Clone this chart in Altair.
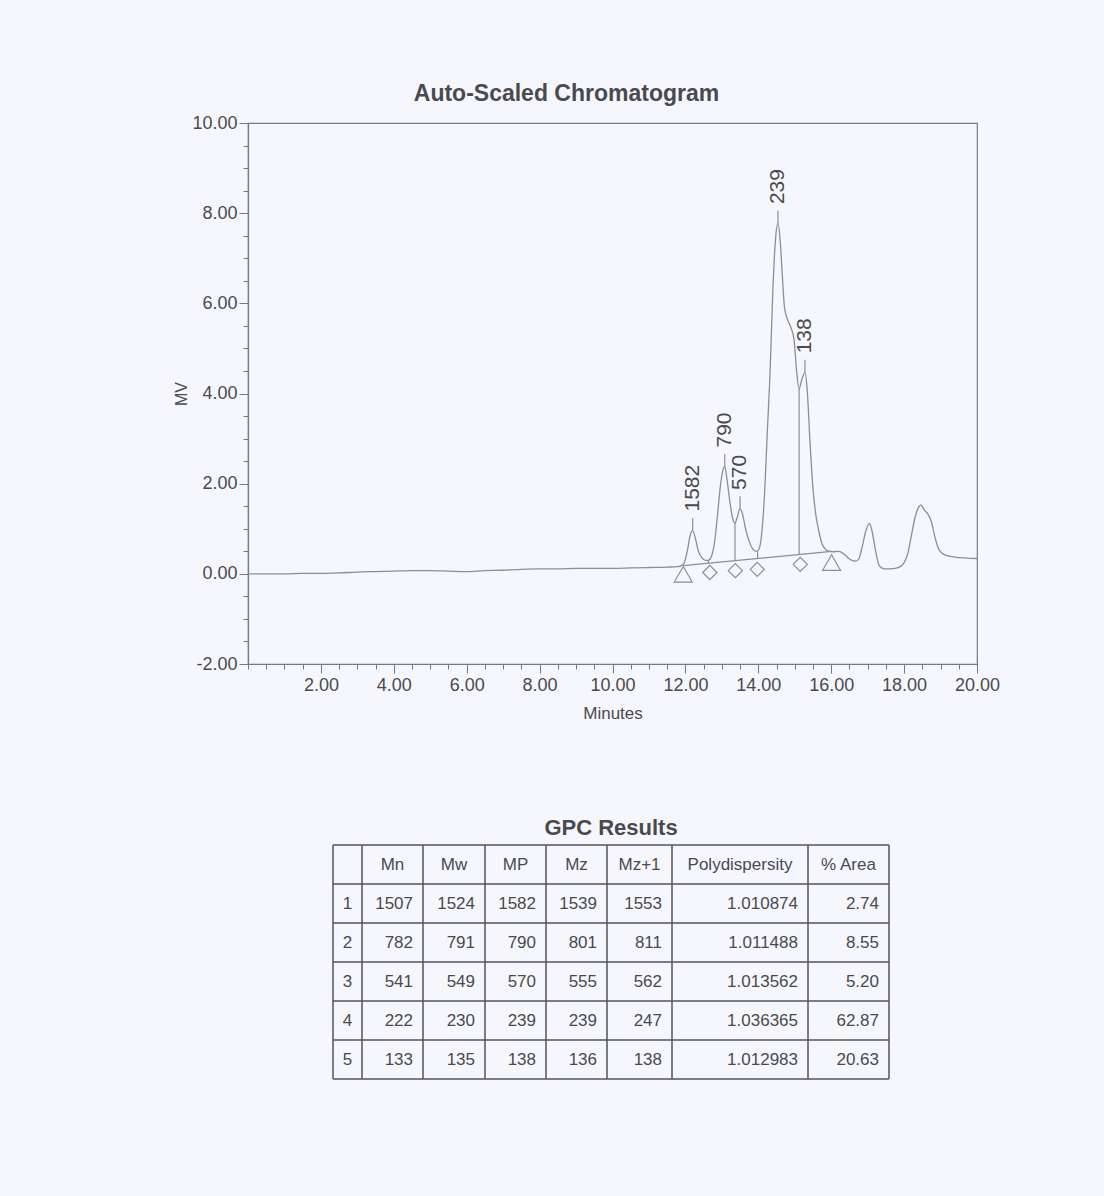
import altair as alt
import pandas as pd

# ---------------- chromatogram data ----------------
trace_time = [0.00, 0.50, 1.00, 1.50, 2.00, 2.50, 3.00, 3.50, 4.00, 4.50, 5.00, 5.50,
              6.00, 6.50, 7.00, 7.50, 8.00, 8.50, 9.00, 9.50, 10.00, 10.50, 11.00,
              11.50, 11.80, 11.95, 12.05, 12.13, 12.20, 12.27, 12.35, 12.45, 12.55,
              12.63, 12.72, 12.80, 12.88, 12.96, 13.03, 13.08, 13.14, 13.22, 13.30,
              13.36, 13.42, 13.50, 13.57, 13.65, 13.75, 13.85, 13.95, 14.02, 14.10,
              14.18, 14.25, 14.32, 14.40, 14.47, 14.54, 14.60, 14.66, 14.72, 14.80,
              14.90, 14.98, 15.05, 15.12, 15.19, 15.28, 15.34, 15.42, 15.50, 15.58,
              15.66, 15.75, 15.85, 15.95, 16.05, 16.20, 16.35, 16.50, 16.65, 16.75,
              16.85, 16.95, 17.05, 17.12, 17.22, 17.32, 17.45, 17.60, 17.75, 17.90,
              18.00, 18.10, 18.20, 18.30, 18.40, 18.46, 18.55, 18.65, 18.75, 18.85,
              18.95, 19.05, 19.20, 19.40, 19.70, 20.00]
trace_mv = [0.00, 0.00, 0.00, 0.01, 0.01, 0.02, 0.04, 0.05, 0.06, 0.07, 0.07, 0.06,
            0.05, 0.07, 0.08, 0.10, 0.11, 0.11, 0.12, 0.12, 0.12, 0.13, 0.14,
            0.15, 0.16, 0.22, 0.50, 0.85, 0.96, 0.80, 0.52, 0.36, 0.30,
            0.30, 0.40, 0.70, 1.30, 1.95, 2.30, 2.38, 2.10, 1.60, 1.22,
            1.12, 1.25, 1.44, 1.32, 1.00, 0.72, 0.55, 0.50, 0.55, 0.95,
            1.90, 3.20, 4.40, 6.30, 7.40, 7.78, 7.40, 6.60, 5.90, 5.65,
            5.45, 5.20, 4.50, 4.10, 4.30, 4.47, 4.10, 2.90, 1.90, 1.30,
            0.95, 0.66, 0.54, 0.50, 0.49, 0.50, 0.44, 0.33, 0.28, 0.32,
            0.60, 0.95, 1.12, 0.95, 0.50, 0.18, 0.11, 0.11, 0.12, 0.16,
            0.25, 0.45, 0.85, 1.25, 1.48, 1.53, 1.42, 1.33, 1.15, 0.80,
            0.55, 0.45, 0.40, 0.37, 0.35, 0.34]

peak_time = [12.20, 13.08, 13.50, 14.54, 15.28]
peak_mv = [0.96, 2.38, 1.44, 7.78, 4.47]

baseline_time = [11.94, 16.01]
baseline_mv = [0.18, 0.50]

drop_time = [12.63, 13.36, 13.98, 15.12]
drop_base_mv = [0.23, 0.29, 0.34, 0.43]
drop_top_mv = [0.30, 1.12, 0.50, 4.10]

marker_time = [11.94, 12.67, 13.37, 13.97, 15.15, 16.01]
marker_mv = [-0.01, 0.03, 0.07, 0.10, 0.21, 0.25]
marker_kind = ["end", "split", "split", "split", "split", "end"]

x_major_ticks = [2.0, 4.0, 6.0, 8.0, 10.0, 12.0, 14.0, 16.0, 18.0, 20.0]
y_major_ticks = [-2.0, 0.0, 2.0, 4.0, 6.0, 8.0, 10.0]
x_minor_ticks = [i * 0.5 for i in range(0, 41)]
y_minor_ticks = [-2.0 + i * 0.5 for i in range(0, 25)]

# ---------------- GPC results table ----------------
col_headers = ["", "Mn", "Mw", "MP", "Mz", "Mz+1", "Polydispersity", "% Area"]
peak_no = [1, 2, 3, 4, 5]
mn = [1507, 782, 541, 222, 133]
mw = [1524, 791, 549, 230, 135]
mp = [1582, 790, 570, 239, 138]
mz = [1539, 801, 555, 239, 136]
mz1 = [1553, 811, 562, 247, 138]
polydispersity = ["1.010874", "1.011488", "1.013562", "1.036365", "1.012983"]
area_pct = ["2.74", "8.55", "5.20", "62.87", "20.63"]

# ---------------- style / layout ----------------
FONT = "Liberation Sans"
BG = "#f6f7fc"
LINE = "#8a8e98"
AXIS = "#777a80"
TEXT = "#4a4a4e"
PLOT_W, PLOT_H = 729, 541
LABEL_EXPR = "datum.value < 0 ? '-' + format(-datum.value, '.2f') : format(datum.value, '.2f')"

xs = alt.Scale(domain=[0, 20], nice=False, zero=False)
ys = alt.Scale(domain=[-2, 10], nice=False, zero=False)

trace_df = pd.DataFrame({"t": trace_time, "mv": trace_mv})
peak_df = pd.DataFrame({"t": peak_time, "mv": peak_mv, "label": [str(v) for v in mp]})
base_df = pd.DataFrame({"t": baseline_time, "mv": baseline_mv})
drop_df = pd.DataFrame({"t": drop_time, "lo": drop_base_mv, "hi": drop_top_mv})
mark_df = pd.DataFrame({"t": marker_time, "mv": marker_mv, "kind": marker_kind})

# trace + minor ticks axes
trace = alt.Chart(trace_df).mark_line(color=LINE, strokeWidth=1.3, interpolate="monotone").encode(
    x=alt.X("t:Q", scale=xs, axis=alt.Axis(values=x_minor_ticks, labels=False, domain=False,
                                           grid=False, tickSize=5, tickColor=AXIS, tickWidth=1,
                                           title=None, orient="bottom")),
    y=alt.Y("mv:Q", scale=ys, axis=alt.Axis(values=y_minor_ticks, labels=False, domain=False,
                                            grid=False, tickSize=5, tickColor=AXIS, tickWidth=1,
                                            title=None, orient="left")),
)

# baseline + major axes
baseline = alt.Chart(base_df).mark_line(color=LINE, strokeWidth=1.2).encode(
    x=alt.X("t:Q", scale=xs, axis=alt.Axis(values=x_major_ticks, labelExpr=LABEL_EXPR, grid=False,
                                           tickSize=9, tickColor=AXIS, domainColor=AXIS,
                                           domainWidth=1.2, labelFontSize=18, labelColor=TEXT,
                                           labelFlush=False, labelPadding=3,
                                           title="Minutes", titleFontSize=17,
                                           titleFontWeight="normal", titleColor=TEXT,
                                           titlePadding=11, orient="bottom")),
    y=alt.Y("mv:Q", scale=ys, axis=alt.Axis(values=y_major_ticks, labelExpr=LABEL_EXPR, grid=False,
                                            tickSize=9, tickColor=AXIS, domainColor=AXIS,
                                            domainWidth=1.2, labelFontSize=18, labelColor=TEXT,
                                            labelFlush=False, labelPadding=2,
                                            title="MV", titleFontSize=16,
                                            titleFontWeight="normal", titleColor=TEXT,
                                            titlePadding=2, orient="left")),
)

drops = alt.Chart(drop_df).mark_rule(color=LINE, strokeWidth=1.2).encode(
    x=alt.X("t:Q", scale=xs, axis=None),
    y=alt.Y("lo:Q", scale=ys, axis=None),
    y2="hi:Q",
)

peak_ticks = alt.Chart(peak_df).transform_calculate(top="datum.mv + 0.28").mark_rule(
    color=LINE, strokeWidth=1.2).encode(
    x=alt.X("t:Q", scale=xs, axis=None),
    y=alt.Y("mv:Q", scale=ys, axis=None),
    y2="top:Q",
)

peak_labels = alt.Chart(peak_df).mark_text(
    angle=270, align="left", baseline="middle", dx=19, fontSize=21, color=TEXT, font=FONT
).encode(
    x=alt.X("t:Q", scale=xs, axis=None),
    y=alt.Y("mv:Q", scale=ys, axis=None),
    text="label:N",
)

ends = alt.Chart(mark_df).transform_filter("datum.kind == 'end'").mark_point(
    shape="triangle-up", size=320, filled=False, color=LINE, strokeWidth=1.2, opacity=1
).encode(
    x=alt.X("t:Q", scale=xs, axis=None),
    y=alt.Y("mv:Q", scale=ys, axis=None),
)

splits = alt.Chart(mark_df).transform_filter("datum.kind == 'split'").mark_point(
    shape="diamond", size=200, filled=False, color=LINE, strokeWidth=1.2, opacity=1
).encode(
    x=alt.X("t:Q", scale=xs, axis=None),
    y=alt.Y("mv:Q", scale=ys, axis=None),
)

chrom = alt.layer(trace, baseline, drops, peak_ticks, peak_labels, ends, splits).resolve_axis(
    x="independent", y="independent"
).properties(
    width=PLOT_W, height=PLOT_H,
    title=alt.TitleParams("Auto-Scaled Chromatogram", fontSize=23, fontWeight="bold",
                          color=TEXT, font=FONT, anchor="middle", frame="group",
                          dx=-46, offset=8),
    view=alt.ViewBackground(stroke=AXIS, strokeWidth=1.2),
)

# ---------------- table panel ----------------
COL_W = [29, 61, 62, 61, 61, 65, 136, 81]
TABLE_LEFT = 85
TABLE_TOP = 37
ROW_H = 39
PANEL_H = 272
edges = [TABLE_LEFT]
for w in COL_W:
    edges.append(edges[-1] + w)
n_rows = len(peak_no) + 1
table_bottom = TABLE_TOP + ROW_H * n_rows

tx = alt.Scale(domain=[0, PLOT_W], nice=False, zero=False)
ty = alt.Scale(domain=[0, PANEL_H], reverse=True, nice=False, zero=False)

hlines = pd.DataFrame({"y": [TABLE_TOP + ROW_H * i for i in range(n_rows + 1)],
                       "x": edges[0], "x2": edges[-1]})
vlines = pd.DataFrame({"x": edges, "y": TABLE_TOP, "y2": table_bottom})

center_cells = []
for c, h in enumerate(col_headers):
    center_cells.append({"x": (edges[c] + edges[c + 1]) / 2, "y": TABLE_TOP + ROW_H / 2, "text": h})
for r, n in enumerate(peak_no):
    center_cells.append({"x": (edges[0] + edges[1]) / 2, "y": TABLE_TOP + ROW_H * (r + 1.5),
                         "text": str(n)})
right_cells = []
for c, col in enumerate([mn, mw, mp, mz, mz1, polydispersity, area_pct], start=1):
    for r, v in enumerate(col):
        right_cells.append({"x": edges[c + 1] - 10, "y": TABLE_TOP + ROW_H * (r + 1.5), "text": str(v)})

title_df = pd.DataFrame({"x": [(edges[0] + edges[-1]) / 2], "y": [20], "text": ["GPC Results"]})

GRID = "#555558"
t_h = alt.Chart(hlines).mark_rule(color=GRID, strokeWidth=1.5).encode(
    x=alt.X("x:Q", scale=tx, axis=None), x2="x2:Q", y=alt.Y("y:Q", scale=ty, axis=None))
t_v = alt.Chart(vlines).mark_rule(color=GRID, strokeWidth=1.5).encode(
    x=alt.X("x:Q", scale=tx, axis=None), y=alt.Y("y:Q", scale=ty, axis=None), y2="y2:Q")
t_c = alt.Chart(pd.DataFrame(center_cells)).mark_text(
    align="center", baseline="middle", fontSize=17, color=TEXT, font=FONT).encode(
    x=alt.X("x:Q", scale=tx, axis=None), y=alt.Y("y:Q", scale=ty, axis=None), text="text:N")
t_r = alt.Chart(pd.DataFrame(right_cells)).mark_text(
    align="right", baseline="middle", fontSize=17, color=TEXT, font=FONT).encode(
    x=alt.X("x:Q", scale=tx, axis=None), y=alt.Y("y:Q", scale=ty, axis=None), text="text:N")
t_t = alt.Chart(title_df).mark_text(
    align="center", baseline="middle", fontSize=22, fontWeight="bold", color=TEXT, font=FONT).encode(
    x=alt.X("x:Q", scale=tx, axis=None), y=alt.Y("y:Q", scale=ty, axis=None), text="text:N")

table = alt.layer(t_h, t_v, t_c, t_r, t_t).properties(width=PLOT_W, height=PANEL_H)

chart = alt.vconcat(chrom, table, spacing=85).properties(
    padding={"left": 173, "top": 82, "right": 103, "bottom": 117},
    background=BG,
).configure(font=FONT).configure_view(stroke="transparent")

chart.save("out.html", embed_options={"renderer": "svg", "actions": False})
